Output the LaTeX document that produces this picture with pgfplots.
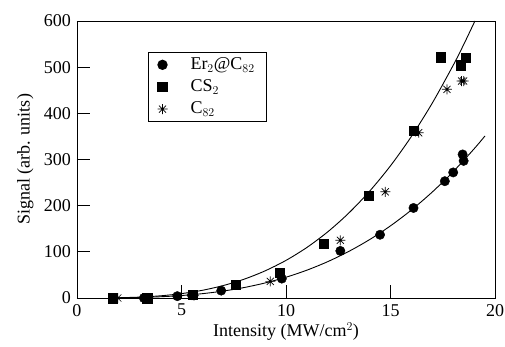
\documentclass[border=0pt]{standalone}
\usepackage{pgfplots}
\pgfplotsset{compat=1.18}
\usepackage{fontspec}
\setmainfont{Liberation Serif}
\pgfdeclareplotmark{ast8}{%
  \pgfpathmoveto{\pgfqpoint{0pt}{\pgfplotmarksize}}\pgfpathlineto{\pgfqpoint{0pt}{-\pgfplotmarksize}}%
  \pgfpathmoveto{\pgfqpoint{\pgfplotmarksize}{0pt}}\pgfpathlineto{\pgfqpoint{-\pgfplotmarksize}{0pt}}%
  \pgfpathmoveto{\pgfqpoint{0.707\pgfplotmarksize}{0.707\pgfplotmarksize}}\pgfpathlineto{\pgfqpoint{-0.707\pgfplotmarksize}{-0.707\pgfplotmarksize}}%
  \pgfpathmoveto{\pgfqpoint{0.707\pgfplotmarksize}{-0.707\pgfplotmarksize}}\pgfpathlineto{\pgfqpoint{-0.707\pgfplotmarksize}{0.707\pgfplotmarksize}}%
  \pgfusepathqstroke}
\begin{document}
\fontsize{18bp}{20bp}\selectfont
\begin{tikzpicture}[font=\fontsize{18bp}{20bp}\selectfont]
\begin{axis}[
  name=ax,
  scale only axis,
  width=418bp, height=277bp,
  xmin=0, xmax=20, ymin=0, ymax=600,
  xtick={0,5,10,15,20}, ytick={0,100,...,600},
  tick align=inside, xtick pos=bottom, ytick pos=left,
  major tick length=13bp,
  axis line style={line width=0.9pt},
  tick style={line width=0.9pt, black},
  /pgf/number format/assume math mode=true,
  every tick label/.append style={font=\fontsize{18bp}{20bp}\selectfont},
  every axis label/.append style={font=\fontsize{18bp}{20bp}\selectfont},
  xlabel={Intensity (MW/cm$^{2}$)},
  ylabel={Signal (arb. units)},
  xlabel style={yshift=6bp},
  ylabel style={yshift=-2bp},
  legend style={at={(0.17,0.888)}, anchor=north west, draw=black, line width=0.9pt,
    font=\fontsize{18bp}{20bp}\selectfont, row sep=5.5bp, column sep=20bp,
    inner xsep=9bp, inner ysep=4bp,
    nodes={inner xsep=3bp, inner ysep=1bp}},
  legend image code/.code={\draw[mark repeat=2,mark phase=2,#1] plot coordinates {(0bp,0bp) (17bp,0bp) (37bp,0bp)};},
  legend cell align=left,
  every axis plot/.append style={black},
]
\addplot[only marks, mark=*, mark size=4.7bp] coordinates {
(3.2,0) (4.8,4) (5.5,6) (6.9,16) (9.8,42) (12.6,102) (14.5,137) (16.1,195)
(17.6,253) (18.0,272) (18.45,311) (18.5,297)};
\addlegendentry{Er$_2$@C$_{82}$}
\addplot[only marks, mark=square*, mark size=4.7bp] coordinates {
(1.7,0) (3.35,0) (5.55,7) (7.6,29) (9.7,55) (11.8,117) (13.95,222) (16.1,362)
(17.4,522) (18.35,504) (18.6,520)};
\addlegendentry{CS$_2$}
\addplot[only marks, mark=ast8, mark size=5bp, mark options={line width=0.7pt}] coordinates {
(1.95,0) (3.4,0) (5.6,5) (9.25,36) (12.6,125) (14.75,230) (16.35,358) (17.7,452) (18.4,470) (18.5,470)};
\addlegendentry{C$_{82}$}
\addplot[no marks, line width=0.9pt, smooth] coordinates {
(2,0.55) (3,1.95) (4,4.76) (5,9.51) (6,16.7) (7,27.0) (8,40.8) (9,58.8) (10,81.5)
(11,109.5) (12,143.4) (13,183.8) (14,231.3) (15,286.4) (16,349.9) (17,422.3) (18,504.1) (18.5,548.8) (19.04,600)};
\addplot[no marks, line width=0.9pt, smooth] coordinates {
(2,0.32) (3,1.12) (4,2.70) (5,5.36) (6,9.38) (7,15.07) (8,22.7) (9,32.6) (10,45.0)
(11,60.3) (12,78.8) (13,100.8) (14,126.5) (15,156.3) (16,190.6) (17,229.6) (18,273.7) (19,323.1) (19.52,351)};
\end{axis}
\pgfresetboundingbox
\path ([shift={(-77bp,-49bp)}]ax.south west) rectangle ([shift={(10bp,21bp)}]ax.north east);
\end{tikzpicture}
\end{document}
